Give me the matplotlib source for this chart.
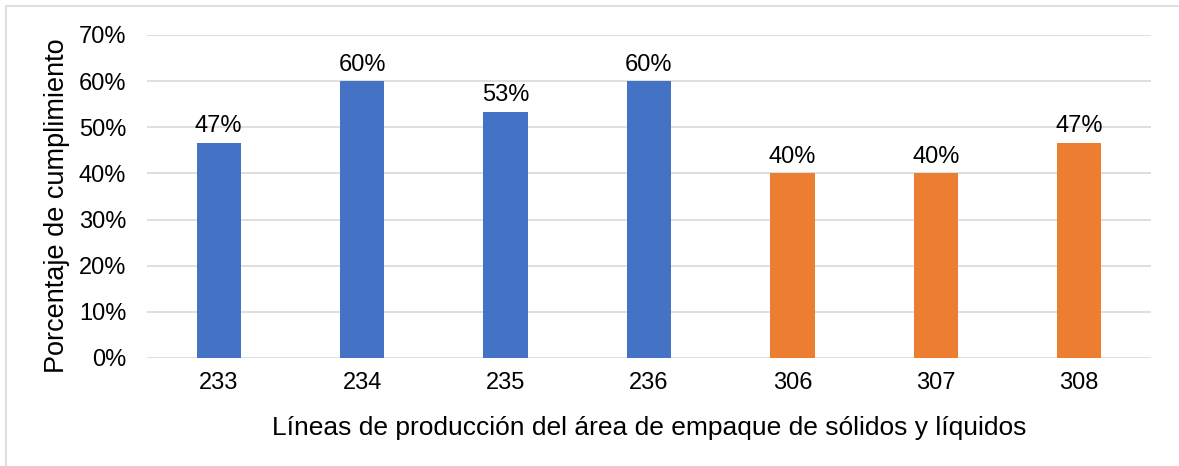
import matplotlib.pyplot as plt
from matplotlib.patches import Rectangle
from matplotlib.ticker import PercentFormatter

lineas = ['233', '234', '235', '236', '306', '307', '308']
cumplimiento = [46.67, 60.0, 53.33, 60.0, 40.0, 40.0, 46.67]
colores = ['#4472C4'] * 4 + ['#ED7D31'] * 3

plt.rcParams['font.family'] = ['Liberation Sans', 'DejaVu Sans']

fig = plt.figure(figsize=(11.79, 4.66), dpi=100)
ax = fig.add_axes([0.1247, 0.2318, 0.8515, 0.6931])

# marco gris alrededor del grafico
fig.patches.append(Rectangle((6 / 1179, -0.1), 1.2, 1.1 - 6 / 466, transform=fig.transFigure,
                             fill=False, edgecolor='#D9D9D9', linewidth=1.2))

x = range(len(lineas))
barras = ax.bar(x, cumplimiento, width=0.31, color=colores, zorder=3)

for b, v in zip(barras, cumplimiento):
    ax.annotate(f'{v:.0f}%', (b.get_x() + b.get_width() / 2, v),
                xytext=(0, 4), textcoords='offset points',
                ha='center', va='bottom', fontsize=17)

ax.set_xlim(-0.5, len(lineas) - 0.5)
ax.set_ylim(0, 70)
ax.set_yticks(range(0, 71, 10))
ax.yaxis.set_major_formatter(PercentFormatter(decimals=0))
ax.set_xticks(list(x))
ax.set_xticklabels(lineas)
ax.tick_params(axis='both', length=0, labelsize=17)
ax.tick_params(axis='y', pad=15)
ax.tick_params(axis='x', pad=10)
ax.grid(axis='y', color='#D9D9D9', linewidth=1.2, zorder=0)
for s in ax.spines.values():
    s.set_visible(False)

ax.set_ylabel('Porcentaje de cumplimiento', fontsize=19.5)
ax.yaxis.set_label_coords(-0.077, 0.47)
ax.set_xlabel('Líneas de producción del área de empaque de sólidos y líquidos', fontsize=19, labelpad=16)

fig.savefig('out.png', dpi=100)
